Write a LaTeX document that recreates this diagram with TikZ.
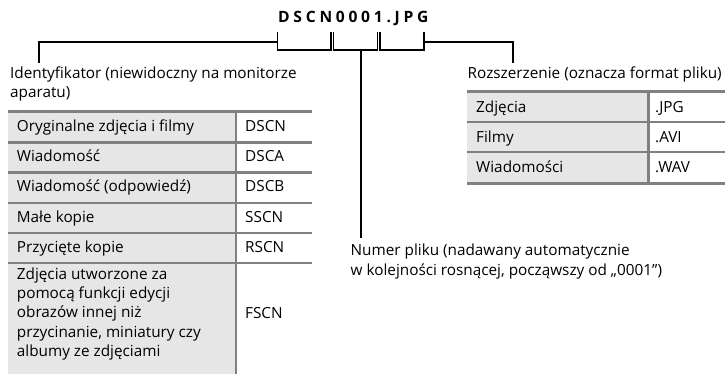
\documentclass[tikz,border=0pt]{standalone}
\usepackage{fontspec}
\setmainfont{Open Sans}
\definecolor{rulegray}{RGB}{128,128,128}
\definecolor{cellgray}{RGB}{230,230,230}
\tikzset{
  br/.style={line width=1.8pt, black, line cap=rect},
  rowrule/.style={line width=2.4pt, rulegray},
  edgerule/.style={line width=3pt, rulegray},
  txt/.style={anchor=base west, inner sep=0pt, align=left,
    font=\fontsize{15.3}{19.2}\selectfont},
  titletxt/.style={anchor=base west, inner sep=0pt,
    font=\fontsize{15.6}{18}\selectfont\bfseries\addfontfeature{LetterSpace=24}}
}
\begin{document}
\begin{tikzpicture}[x=1pt,y=-1pt]
\useasboundingbox (0,0) rectangle (725,374);

% title
\node[titletxt] (title) at (278,22.7) {DSCN0001.JPG};

% bracket coordinates
\coordinate (s1a) at (277.5,33); \coordinate (s1b) at (331,33);
\coordinate (s2a) at (333.5,33); \coordinate (s2b) at (377.5,33);
\coordinate (s3a) at (380,33);   \coordinate (s3b) at (424,33);
\coordinate (s1w) at (277.5,42); \coordinate (s3e) at (424,42);
\coordinate (stemtop) at (361,50);
\coordinate (idtop) at (39,62);
\coordinate (exttop) at (513,62);
\coordinate (numtop) at (361,237);

\draw[br] (s1a) -- ++(0,17) -| (s1b);
\draw[br] (s2a) -- ++(0,17) -| (s2b);
\draw[br] (s3a) -- ++(0,17) -| (s3b);
\draw[br] (idtop) |- (s1w);
\draw[br] (s3e) -| (exttop);
\draw[br] (stemtop) -- (numtop);

% labels (base anchor = baseline of the last line)
\node[txt] (idlabel) at (10,97.5) {Identyfikator (niewidoczny na monitorze\\aparatu)};
\node[txt] (extlabel) at (467.5,78.3) {Rozszerzenie (oznacza format pliku)};
\node[txt] (numlabel) at (350.5,275) {Numer pliku (nadawany automatycznie\\w kolejności rosnącej, począwszy od „0001”)};

% left table
\fill[cellgray] (8.3,112) rectangle (236,374);
\draw[rowrule] (236,112) -- (236,374);
\foreach \yy in {142.5,172.5,203,233,263}
  \draw[rowrule] (8.3,\yy) -- (312,\yy);
\draw[edgerule] (8.3,112) -- (312,112);

\node[txt] (l1a) at (16.7,131.5) {Oryginalne zdjęcia i filmy};
\node[txt] (l1b) at (245,131.5) {DSCN};
\node[txt] (l2a) at (16.7,161.5) {Wiadomość};
\node[txt] (l2b) at (245,161.5) {DSCA};
\node[txt] (l3a) at (16.7,192) {Wiadomość (odpowiedź)};
\node[txt] (l3b) at (245,192) {DSCB};
\node[txt] (l4a) at (16.7,222.5) {Małe kopie};
\node[txt] (l4b) at (245,222.5) {SSCN};
\node[txt] (l5a) at (16.7,252.5) {Przycięte kopie};
\node[txt] (l5b) at (245,252.5) {RSCN};
\node[txt] (l6a) at (16.7,356.2) {Zdjęcia utworzone za\\pomocą funkcji edycji\\obrazów innej niż\\przycinanie, miniatury czy\\albumy ze zdjęciami};
\node[txt] (l6b) at (245,318) {FSCN};

% right table
\fill[cellgray] (467,92) rectangle (648.5,184);
\draw[rowrule] (648.5,92) -- (648.5,184);
\foreach \yy in {122,152}
  \draw[rowrule] (467,\yy) -- (725,\yy);
\draw[edgerule] (467,92) -- (725,92);
\draw[edgerule] (467,184) -- (725,184);

\node[txt] (r1a) at (476,113) {Zdjęcia};
\node[txt] (r1b) at (655,113) {.JPG};
\node[txt] (r2a) at (476,143) {Filmy};
\node[txt] (r2b) at (655,143) {.AVI};
\node[txt] (r3a) at (476,172.5) {Wiadomości};
\node[txt] (r3b) at (655,172.5) {.WAV};
\end{tikzpicture}
\end{document}
